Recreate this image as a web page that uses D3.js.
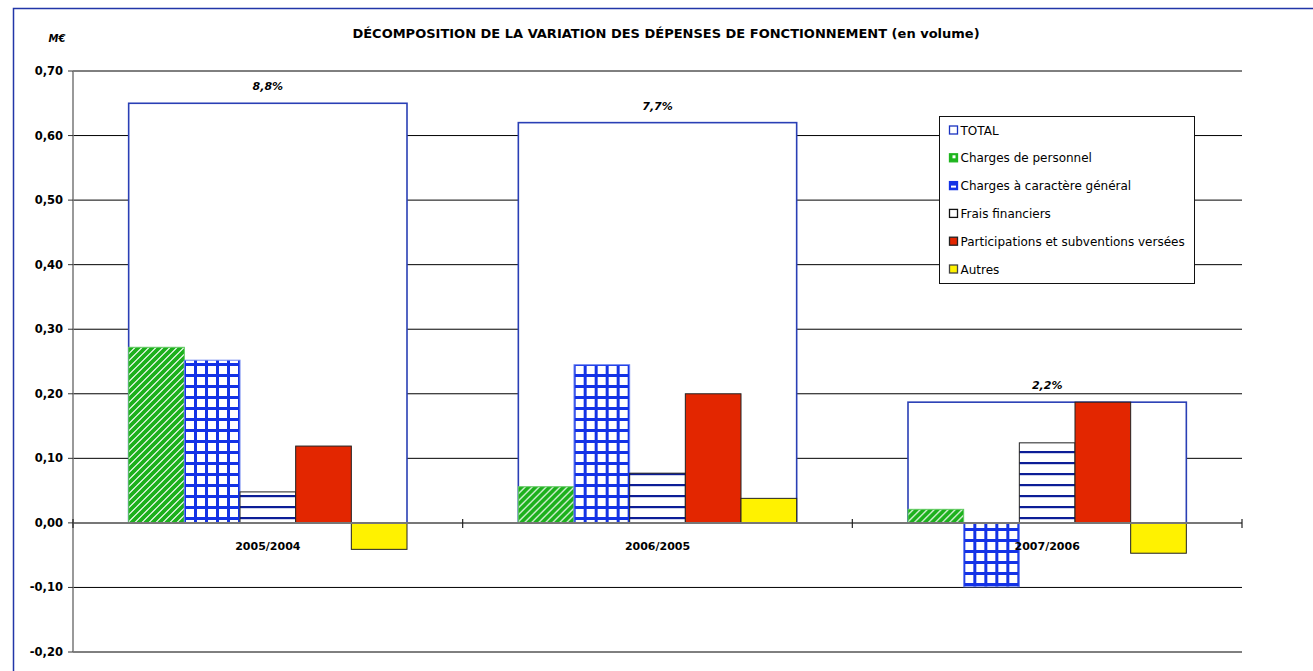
<!DOCTYPE html>
<html>
<head>
<meta charset="utf-8">
<script src="https://cdn.jsdelivr.net/npm/d3@7"></script>
<style>
  html, body { margin: 0; padding: 0; background: #fff; }
  svg { display: block; }
  text { font-family: "DejaVu Sans", Verdana, sans-serif; fill: #000; }
</style>
</head>
<body>
<svg id="chart" width="1313" height="671"></svg>
<script>
// Variation of operating expenditure, M€, per year pair
const categories = ["2005/2004", "2006/2005", "2007/2006"];
const totalValues = [0.65, 0.62, 0.187];
const totalLabels = ["8,8%", "7,7%", "2,2%"];
const personnel = [0.272, 0.056, 0.021];
const chargesGenerales = [0.252, 0.245, -0.099];
const fraisFinanciers = [0.048, 0.077, 0.124];
const participations = [0.119, 0.200, 0.187];
const autres = [-0.041, 0.038, -0.047];
const yTicks = [-0.2, -0.1, 0, 0.1, 0.2, 0.3, 0.4, 0.5, 0.6, 0.7];

const seriesNames = ["Charges de personnel", "Charges à caractère général", "Frais financiers",
  "Participations et subventions versées", "Autres"];
const seriesValues = [personnel, chargesGenerales, fraisFinanciers, participations, autres];
const legendNames = ["TOTAL"].concat(seriesNames);

const svg = d3.select("#chart");
const W = 1313, H = 671;
const plot = { left: 73, right: 1242, top: 71, bottom: 652 };

// ---- fill patterns ----
const defs = svg.append("defs");

const pGreen = defs.append("pattern").attr("id", "pat-green")
  .attr("patternUnits", "userSpaceOnUse").attr("width", 7).attr("height", 7);
pGreen.append("rect").attr("width", 7).attr("height", 7).attr("fill", "#fff");
pGreen.append("path").attr("d", "M-1,8 L8,-1 M-4,4 L4,-4 M3,11 L11,3")
  .attr("stroke", "#1cb01c").attr("stroke-width", 3.8);

const pGrid = defs.append("pattern").attr("id", "pat-grid")
  .attr("patternUnits", "userSpaceOnUse").attr("width", 11).attr("height", 11);
pGrid.append("rect").attr("width", 11).attr("height", 11).attr("fill", "#fff");
pGrid.append("rect").attr("x", 0).attr("y", 0).attr("width", 3).attr("height", 11).attr("fill", "#1332e6");
pGrid.append("rect").attr("x", 0).attr("y", 0).attr("width", 11).attr("height", 3).attr("fill", "#1332e6");

const pLines = defs.append("pattern").attr("id", "pat-lines")
  .attr("patternUnits", "userSpaceOnUse").attr("width", 11).attr("height", 11);
pLines.append("rect").attr("width", 11).attr("height", 11).attr("fill", "#fff");
pLines.append("rect").attr("x", 0).attr("y", 0).attr("width", 11).attr("height", 2.2).attr("fill", "#0c1d96");

const seriesFill = ["url(#pat-green)", "url(#pat-grid)", "url(#pat-lines)", "#e32600", "#fff200"];
const seriesStroke = ["#5ec95e", "#6a82f0", "#222", "#222", "#222"];

// ---- outer frame ----
svg.append("path").attr("d", `M13.5,${H} L13.5,8.5 L${W},8.5`)
  .attr("fill", "none").attr("stroke", "#2236a8").attr("stroke-width", 1.5);

// ---- scales ----
const y = d3.scaleLinear().domain([-0.2, 0.7]).range([plot.bottom, plot.top]);
const x0 = d3.scaleBand().domain(categories).range([plot.left, plot.right]).padding(0);
const x1 = d3.scaleBand().domain(seriesNames).range([0, x0.bandwidth()])
  .paddingInner(0).paddingOuter(1);

// ---- gridlines ----
svg.append("g").selectAll("line").data(yTicks.filter(d => d !== 0)).join("line")
  .attr("x1", plot.left).attr("x2", plot.right)
  .attr("y1", d => y(d)).attr("y2", d => y(d))
  .attr("stroke", "#000").attr("stroke-width", 1);

// ---- TOTAL boxes ----
const groups = svg.append("g").selectAll("g").data(categories).join("g")
  .attr("transform", d => `translate(${x0(d)},0)`);

groups.append("rect")
  .attr("x", x1(seriesNames[0]))
  .attr("width", x1.bandwidth() * seriesNames.length)
  .attr("y", (d, i) => y(totalValues[i]))
  .attr("height", (d, i) => y(0) - y(totalValues[i]))
  .attr("fill", "#fff").attr("stroke", "#2a3fb5").attr("stroke-width", 1.6);

// ---- component bars ----
seriesNames.forEach((name, s) => {
  groups.append("rect")
    .attr("x", x1(name))
    .attr("width", x1.bandwidth())
    .attr("y", (d, i) => y(Math.max(0, seriesValues[s][i])))
    .attr("height", (d, i) => Math.abs(y(seriesValues[s][i]) - y(0)))
    .attr("fill", seriesFill[s])
    .attr("stroke", seriesStroke[s]).attr("stroke-width", 1);
});

// ---- total labels ----
groups.append("text")
  .attr("x", x0.bandwidth() / 2)
  .attr("y", (d, i) => y(totalValues[i]) - 13)
  .attr("text-anchor", "middle")
  .attr("font-size", 11).attr("font-weight", "bold").attr("font-style", "italic")
  .text((d, i) => totalLabels[i]);

// ---- y axis ----
const yAxis = svg.append("g");
yAxis.append("line").attr("x1", plot.left).attr("x2", plot.left)
  .attr("y1", plot.top).attr("y2", plot.bottom)
  .attr("stroke", "#777").attr("stroke-width", 1.5);
yAxis.selectAll("line.tick").data(yTicks).join("line").attr("class", "tick")
  .attr("x1", plot.left - 5).attr("x2", plot.left)
  .attr("y1", d => y(d)).attr("y2", d => y(d))
  .attr("stroke", "#333");
yAxis.selectAll("text").data(yTicks).join("text")
  .attr("x", plot.left - 10).attr("y", d => y(d) + 4)
  .attr("text-anchor", "end")
  .attr("font-size", 11.5).attr("font-weight", "bold")
  .text(d => d3.format(".2f")(d).replace(".", ",").replace("−", "-"));

// ---- x axis at zero ----
const xAxis = svg.append("g");
xAxis.append("line").attr("x1", plot.left).attr("x2", plot.right)
  .attr("y1", y(0)).attr("y2", y(0))
  .attr("stroke", "#777").attr("stroke-width", 2);
const boundaries = categories.map(c => x0(c)).concat([plot.right]);
xAxis.selectAll("line.tick").data(boundaries).join("line").attr("class", "tick")
  .attr("x1", d => d).attr("x2", d => d)
  .attr("y1", y(0) - 4).attr("y2", y(0) + 5)
  .attr("stroke", "#222").attr("stroke-width", 1.2);
xAxis.selectAll("text").data(categories).join("text")
  .attr("x", d => x0(d) + x0.bandwidth() / 2).attr("y", y(0) + 27)
  .attr("text-anchor", "middle")
  .attr("font-size", 11).attr("font-weight", "bold")
  .text(d => d);

// ---- title and unit ----
svg.append("text").attr("x", 666).attr("y", 38)
  .attr("text-anchor", "middle")
  .attr("font-size", 13).attr("font-weight", "bold")
  .text("DÉCOMPOSITION DE LA VARIATION DES DÉPENSES DE FONCTIONNEMENT (en volume)");
svg.append("text").attr("x", 57).attr("y", 42)
  .attr("text-anchor", "middle")
  .attr("font-size", 10).attr("font-weight", "bold").attr("font-style", "italic")
  .text("M€");

// ---- legend ----
const legend = svg.append("g").attr("transform", "translate(939.5,116.5)");
legend.append("rect").attr("width", 255).attr("height", 167)
  .attr("fill", "#fff").attr("stroke", "#111").attr("stroke-width", 1);
const legendFill = ["#fff", "#1fb51f", "#1332e6", "#fff", "#e32600", "#fff200"];
const legendStroke = ["#1a33c0", "#1fb51f", "#1332e6", "#111", "#222", "#444"];
const items = legend.selectAll("g").data(legendNames).join("g")
  .attr("transform", (d, i) => `translate(10,${13.5 + i * 27.8})`);
items.append("rect").attr("x", 0).attr("y", -4).attr("width", 8).attr("height", 8)
  .attr("fill", (d, i) => legendFill[i])
  .attr("stroke", (d, i) => legendStroke[i]).attr("stroke-width", 1.3);
items.filter((d, i) => i === 1 || i === 2).append("rect")
  .attr("x", (d, i) => i === 0 ? 3 : 1.5).attr("y", (d, i) => i === 0 ? -2.5 : 0)
  .attr("width", (d, i) => i === 0 ? 3 : 5).attr("height", (d, i) => i === 0 ? 3 : 2)
  .attr("fill", "#fff");
items.append("text").attr("x", 11).attr("y", 4.5)
  .attr("font-size", 12)
  .text(d => d);
</script>
</body>
</html>
